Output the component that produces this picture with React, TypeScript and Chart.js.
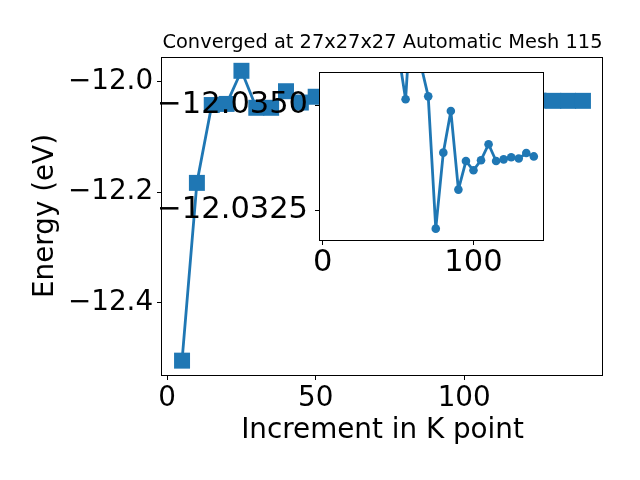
import React, { useEffect, useRef } from "react";
import { Chart, registerables } from "chart.js";

Chart.register(...registerables);

// ---- data ----
const kPoints = [5, 10, 15, 20, 25, 30, 35, 40, 45, 50, 55, 60, 65, 70, 75, 80, 85, 90, 95, 100, 105, 110, 115, 120, 125, 130, 135, 140];
const mainEnergy = [
  -12.505, -12.183, -12.042, -12.04, -11.98, -12.047, -12.047, -12.017, -12.0375, -12.027,
  -12.035, -12.038, -12.036, -12.035, -12.032, -12.034, -12.035, -12.033, -12.034, -12.033,
  -12.034, -12.034, -12.034, -12.034, -12.034, -12.0344, -12.0344, -12.0344,
];
const insetKPoints = [50, 55, 60, 65, 70, 75, 80, 85, 90, 95, 100, 105, 110, 115, 120, 125, 130, 135, 140];
const insetEnergy = [
  -12.0363, -12.03514, -12.03798, -12.03598, -12.03521, -12.03206, -12.03387, -12.03486, -12.03299,
  -12.03367, -12.03345, -12.03369, -12.03407, -12.03367, -12.03371, -12.03376, -12.03373, -12.03386, -12.03378,
];
const mainXTicks = [0, 50, 100];
const mainYTicks = [-12.4, -12.2, -12.0];
const insetXTicks = [0, 100];
const insetYTicks = [-12.035, -12.0325];
const titleText = "Converged at 27x27x27 Automatic Mesh 115";
const xLabel = "Increment in K point";
const yLabel = "Energy (eV)";

const BLUE = "#1f77b4";
const FONT = "'DejaVu Sans', sans-serif";

const fmt = (v: number, d: number) => Number(v).toFixed(d).replace("-", "\u2212");

const framePlugin = {
  id: "frame",
  beforeDraw(chart: any, _args: any, opts: any) {
    if (opts && opts.fill) {
      const { ctx, chartArea: a } = chart;
      ctx.save();
      ctx.fillStyle = "#ffffff";
      ctx.fillRect(a.left, a.top, a.right - a.left, a.bottom - a.top);
      ctx.restore();
    }
  },
  afterDatasetsDraw(chart: any) {
    const { ctx, chartArea: a } = chart;
    ctx.save();
    ctx.strokeStyle = "#000000";
    ctx.lineWidth = 1;
    const l = Math.round(a.left) - 0.5;
    const r = Math.round(a.right) - 0.5;
    const t = Math.round(a.top) + 0.5;
    const b = Math.round(a.bottom) + 0.5;
    ctx.strokeRect(l, t, r - l, b - t);
    ctx.restore();
  },
};

const titlePlugin = {
  id: "mainTitle",
  afterDraw(chart: any) {
    const { ctx, chartArea: a } = chart;
    ctx.save();
    ctx.font = `19.4px ${FONT}`;
    ctx.fillStyle = "#000000";
    ctx.textAlign = "center";
    ctx.textBaseline = "alphabetic";
    ctx.fillText(titleText, (a.left + a.right) / 2, a.top - 9);
    ctx.restore();
  },
};

const tickGrid = {
  display: true,
  drawOnChartArea: false,
  drawTicks: true,
  tickLength: 5,
  tickColor: "#000000",
  tickWidth: 1,
};

export default function App() {
  const mainRef = useRef<HTMLCanvasElement | null>(null);
  const insetRef = useRef<HTMLCanvasElement | null>(null);

  useEffect(() => {
    Chart.defaults.font.family = FONT;
    const main = new Chart(mainRef.current as HTMLCanvasElement, {
      type: "line",
      data: {
        datasets: [
          {
            data: kPoints.map((x, i) => ({ x, y: mainEnergy[i] })),
            borderColor: BLUE,
            backgroundColor: BLUE,
            borderWidth: 2.8,
            borderJoinStyle: "round",
            pointStyle: "rect",
            pointRadius: 11.3,
            pointBorderWidth: 0,
            pointBackgroundColor: BLUE,
            tension: 0,
            clip: 0,
          } as any,
        ],
      },
      options: {
        responsive: false,
        animation: false,
        devicePixelRatio: 1,
        events: [],
        layout: { padding: { left: 0, top: 57, right: 37, bottom: 0 } },
        plugins: {
          legend: { display: false },
          tooltip: { enabled: false },
          title: { display: false },
          frame: { fill: false },
        } as any,
        scales: {
          x: {
            type: "linear",
            position: "bottom",
            min: -1.75,
            max: 146.75,
            afterBuildTicks: (s: any) => {
              s.ticks = mainXTicks.map((value) => ({ value }));
            },
            afterFit: (s: any) => {
              s.height = 105;
            },
            grid: tickGrid,
            border: { display: false },
            ticks: {
              color: "#000000",
              font: { family: FONT, size: 27.8, lineHeight: 1 },
              padding: 4.5,
              maxRotation: 0,
              autoSkip: false,
              callback: (v: any) => fmt(v, 0),
            },
            title: {
              display: true,
              text: xLabel,
              color: "#000000",
              font: { family: FONT, size: 27.8, lineHeight: 1 },
              padding: { top: 0, bottom: 35.7 },
            },
          },
          y: {
            type: "linear",
            position: "left",
            min: -12.531,
            max: -11.955,
            afterBuildTicks: (s: any) => {
              s.ticks = mainYTicks.map((value) => ({ value }));
            },
            afterFit: (s: any) => {
              s.width = 162;
            },
            grid: tickGrid,
            border: { display: false },
            ticks: {
              color: "#000000",
              font: { family: FONT, size: 27.8, lineHeight: 1 },
              padding: 3.9,
              autoSkip: false,
              callback: (v: any) => fmt(v, 1),
            },
            title: {
              display: true,
              text: yLabel,
              color: "#000000",
              font: { family: FONT, size: 27.8, lineHeight: 1 },
              padding: { top: 31.5, bottom: 0 },
            },
          },
        },
      } as any,
      plugins: [framePlugin, titlePlugin] as any,
    });

    const inset = new Chart(insetRef.current as HTMLCanvasElement, {
      type: "line",
      data: {
        datasets: [
          {
            data: insetKPoints.map((x, i) => ({ x, y: insetEnergy[i] })),
            borderColor: BLUE,
            backgroundColor: BLUE,
            borderWidth: 2.8,
            borderJoinStyle: "round",
            pointStyle: "circle",
            pointRadius: 4.3,
            pointBorderWidth: 0,
            pointBackgroundColor: BLUE,
            tension: 0,
            clip: 0,
          } as any,
        ],
      },
      options: {
        responsive: false,
        animation: false,
        devicePixelRatio: 1,
        events: [],
        layout: { padding: { left: 160, top: 72, right: 96, bottom: 120 } },
        plugins: {
          legend: { display: false },
          tooltip: { enabled: false },
          title: { display: false },
          frame: { fill: true },
        } as any,
        scales: {
          x: {
            type: "linear",
            position: "bottom",
            min: -1.75,
            max: 146.75,
            afterBuildTicks: (s: any) => {
              s.ticks = insetXTicks.map((value) => ({ value }));
            },
            afterFit: (s: any) => {
              s.height = 120;
            },
            grid: tickGrid,
            border: { display: false },
            ticks: {
              color: "#000000",
              font: { family: FONT, size: 30.5, lineHeight: 1 },
              padding: 2.75,
              maxRotation: 0,
              autoSkip: false,
              callback: (v: any) => fmt(v, 0),
            },
          },
          y: {
            type: "linear",
            position: "left",
            reverse: true,
            min: -12.03579,
            max: -12.03179,
            afterBuildTicks: (s: any) => {
              s.ticks = insetYTicks.map((value) => ({ value }));
            },
            afterFit: (s: any) => {
              s.width = 160;
            },
            grid: tickGrid,
            border: { display: false },
            ticks: {
              color: "#000000",
              font: { family: FONT, size: 30.5, lineHeight: 1 },
              padding: 7,
              autoSkip: false,
              callback: (v: any) => fmt(v, 4),
            },
          },
        },
      } as any,
      plugins: [framePlugin] as any,
    });

    return () => {
      main.destroy();
      inset.destroy();
    };
  }, []);

  return (
    <div style={{ position: "fixed", left: 0, top: 0, width: 640, height: 480, background: "#ffffff" }}>
      <canvas ref={mainRef} width={640} height={480} style={{ position: "absolute", left: 0, top: 0 }} />
      <canvas ref={insetRef} width={640} height={480} style={{ position: "absolute", left: 0, top: 0 }} />
    </div>
  );
}
